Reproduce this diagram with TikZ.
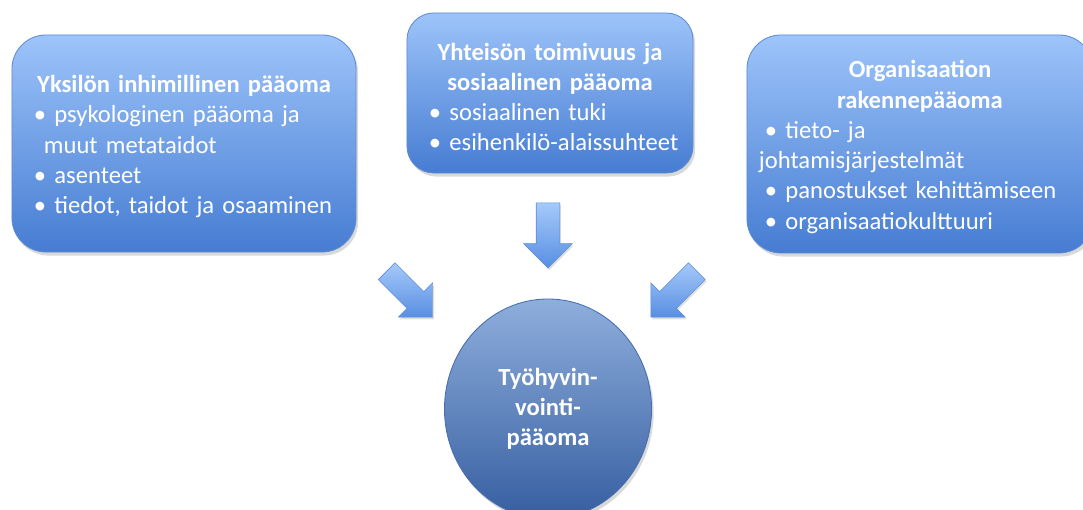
\documentclass[tikz,border=0pt]{standalone}
\usepackage{fontspec}
\setmainfont{Carlito}
\usetikzlibrary{shapes.geometric, shapes.arrows, shadows}

\definecolor{boxtop}{RGB}{157,196,250}
\definecolor{boxbot}{RGB}{70,124,210}
\definecolor{boxline}{RGB}{95,140,210}
\definecolor{circtop}{RGB}{142,174,220}
\definecolor{circbot}{RGB}{54,94,160}
\definecolor{circline}{RGB}{70,110,175}
\definecolor{arrlight}{RGB}{165,202,250}
\definecolor{arrdark}{RGB}{88,142,226}

\newcommand{\boxfont}{\fontsize{17.5}{21.5}\selectfont\parindent=0pt}

\tikzset{
  capbox/.style={rounded corners=0.85cm, draw=boxline, line width=0.6pt,
    top color=boxtop, bottom color=boxbot, text=white,
    inner xsep=0.25cm, inner ysep=0pt, align=left, font=\boxfont,
    drop shadow={opacity=0.3, shadow xshift=1.5pt, shadow yshift=-2.5pt}},
  blockarrow/.style={single arrow, single arrow head extend=0.3125cm,
    minimum height=1.625cm, inner xsep=0pt, inner ysep=0.2875cm,
    draw=boxline, line width=0.4pt, top color=arrlight, bottom color=arrdark,
    drop shadow={opacity=0.25, shadow xshift=1pt, shadow yshift=-1.5pt}},
  wellbeing/.style={ellipse, minimum width=5.175cm, minimum height=5.5cm,
    draw=circline, line width=0.6pt, top color=circtop, bottom color=circbot,
    text=white, align=center, font=\boxfont\bfseries, inner sep=0pt,
    drop shadow={opacity=0.3, shadow xshift=1.5pt, shadow yshift=-2.5pt}}
}

\begin{document}
\begin{tikzpicture}[x=0.025cm, y=-0.025cm]

% FRAME
\clip (0,0) rectangle (1083,510);

% CAPITAL BOXES
\node[capbox, text width=8.1cm, minimum height=5.425cm] (Yks) at (184,143.5) {%
{\centering\bfseries Yksilön inhimillinen pääoma\par}
\hspace*{0.3cm}• psykologinen pääoma ja\\
\hspace*{0.55cm}muut metataidot\\
\hspace*{0.3cm}• asenteet\\
\hspace*{0.3cm}• tiedot, taidot ja osaaminen\par\vspace*{-0.15cm}};

\node[capbox, rounded corners=0.67cm, text width=6.65cm, minimum height=4cm] (Yht) at (550,93) {%
{\centering\bfseries Yhteisön toimivuus ja\\ sosiaalinen pääoma\par}
\hspace*{0.3cm}• sosiaalinen tuki\\
\hspace*{0.3cm}• esihenkilö-alaissuhteet\par\vspace*{-0.2cm}};

\node[capbox, text width=8.15cm, minimum height=5.45cm] (Org) at (920,144) {%
{\centering\bfseries Organisaation\\ rakennepääoma\par}
\hspace*{0.2cm}• tieto- ja\\
\hspace*{0.05cm}johtamisjärjestelmät\\
\hspace*{0.2cm}• panostukset kehittämiseen\\
\hspace*{0.2cm}• organisaatiokulttuuri\par\vspace*{-0.15cm}};

% ARROWS
\foreach \name/\px/\py/\ang in {A1/405.5/290/-45, A2/548/229.5/-90, A3/678/290/-135}
  \node[blockarrow, rotate=\ang] (\name) at (\px,\py) {};

% RESULT
\node[wellbeing] (Tyo) at (548,409) {Työhyvin-\\vointi-\\pääoma};

\end{tikzpicture}
\end{document}
